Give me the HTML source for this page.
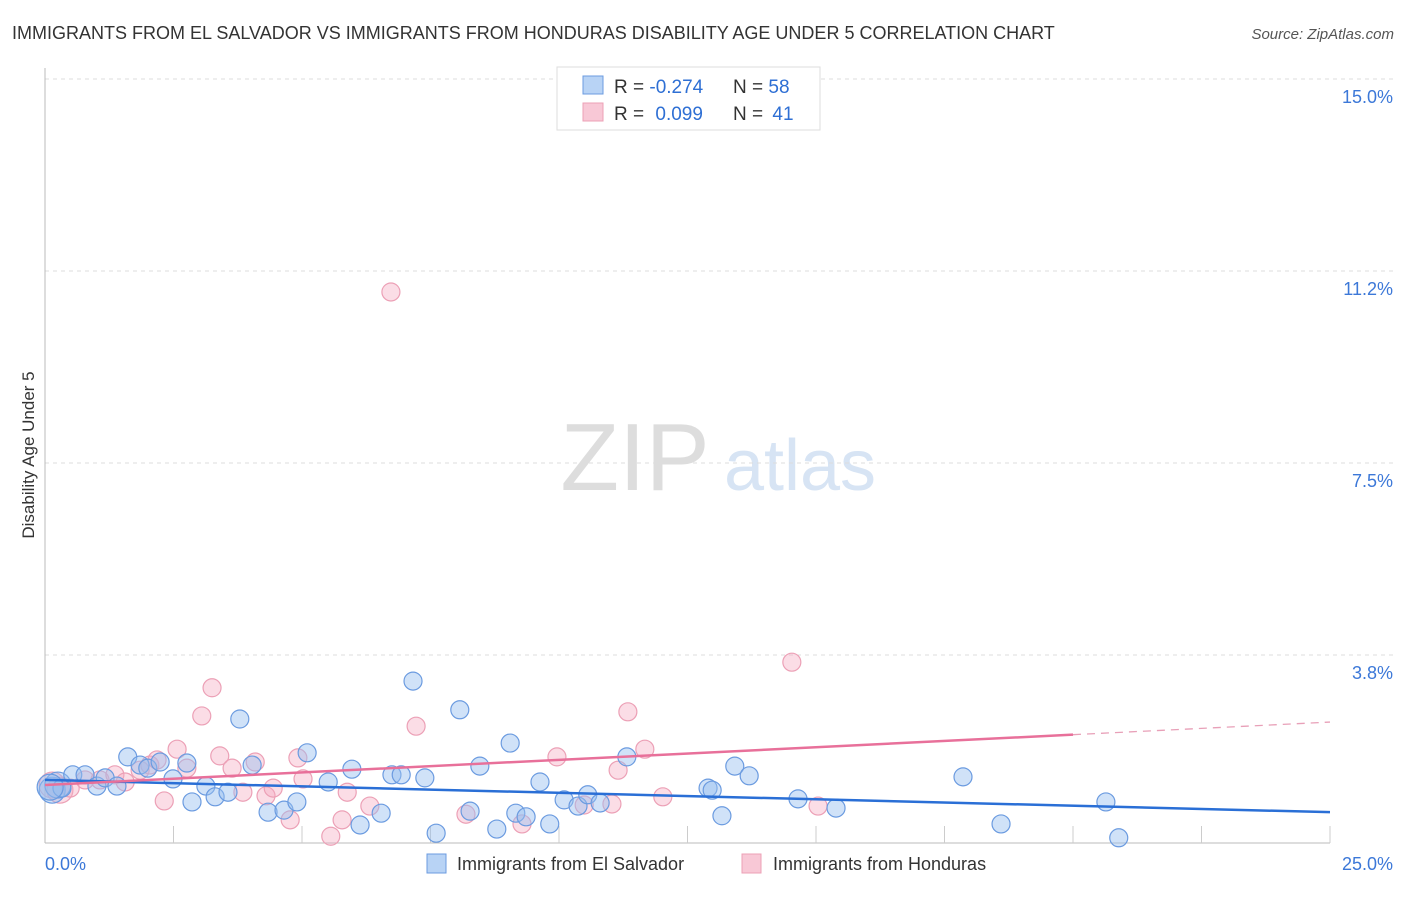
<!DOCTYPE html>
<html><head><meta charset="utf-8"><style>
body{margin:0;background:#fff;font-family:"Liberation Sans",sans-serif;}
svg text{font-family:"Liberation Sans",sans-serif;}
</style></head><body>
<svg id="chart" width="1406" height="892" viewBox="0 0 1406 892" xmlns="http://www.w3.org/2000/svg">
<text x="12" y="39" font-size="18" fill="#333">IMMIGRANTS FROM EL SALVADOR VS IMMIGRANTS FROM HONDURAS DISABILITY AGE UNDER 5 CORRELATION CHART</text>
<text x="1394" y="39" font-size="15" fill="#555" font-style="italic" text-anchor="end">Source: ZipAtlas.com</text>
<g>
<text x="635" y="490" font-size="96" fill="#ddd" font-family="Liberation Serif" text-anchor="middle">ZIP</text>
<text x="800" y="490" font-size="72" fill="#d7e4f4" text-anchor="middle">atlas</text>
</g>
<g id="grid"></g>
<g id="axes"></g>
<g id="pink"></g>
<g id="blue"></g>
<g id="trends"></g>
<text transform="translate(34,455) rotate(-90)" font-size="17" fill="#333" text-anchor="middle">Disability Age Under 5</text>
<g>
<rect x="557" y="67" width="263" height="63" fill="#fff" stroke="#ddd"/>
<rect x="583" y="76" width="20" height="18" fill="#b8d3f5" stroke="#6b9be0"/>
<rect x="583" y="103" width="20" height="18" fill="#f8c8d6" stroke="#eca0b6"/>
<text x="614" y="93" font-size="19" fill="#333">R = <tspan fill="#2e6fd4">-0.274</tspan></text>
<text x="733" y="93" font-size="19" fill="#333">N = <tspan fill="#2e6fd4">58</tspan></text>
<text x="614" y="120" font-size="19" fill="#333">R = <tspan fill="#2e6fd4" dx="6">0.099</tspan></text>
<text x="733" y="120" font-size="19" fill="#333">N = <tspan fill="#2e6fd4" dx="4">41</tspan></text>
</g>
<g>
<rect x="427" y="854" width="19" height="19" fill="#b8d3f5" stroke="#6b9be0"/>
<text x="457" y="870" font-size="18" fill="#333">Immigrants from El Salvador</text>
<rect x="742" y="854" width="19" height="19" fill="#f8c8d6" stroke="#eca0b6"/>
<text x="773" y="870" font-size="18" fill="#333">Immigrants from Honduras</text>
</g>
</svg>
<script>
const yTicks=[3.75,7.5,11.25,15];
const yTickLabels=["3.8%","7.5%","11.2%","15.0%"];
const xTickLabels=["0.0%","25.0%"];
const blueX=[0.14,0.25,0.33,0.54,0.78,1.01,1.17,1.40,1.61,1.85,2.00,2.24,2.49,2.76,2.86,3.13,3.31,3.56,3.79,4.03,4.34,4.65,4.90,5.10,5.51,5.97,6.13,6.54,6.75,6.93,7.16,7.39,7.61,8.07,8.27,8.46,8.79,9.05,9.16,9.36,9.63,9.82,10.10,10.37,10.56,10.80,11.32,12.90,12.98,13.17,13.42,13.70,14.65,15.39,17.86,18.60,20.64,20.89,0.10];
const blueY=[1.11,1.21,1.15,1.41,1.41,1.19,1.35,1.19,1.76,1.60,1.54,1.66,1.33,1.64,0.88,1.19,0.98,1.07,2.50,1.60,0.68,0.72,0.88,1.84,1.27,1.52,0.43,0.66,1.41,1.41,3.24,1.35,0.27,2.68,0.70,1.58,0.35,2.03,0.66,0.59,1.27,0.45,0.92,0.80,1.02,0.86,1.76,1.15,1.11,0.61,1.58,1.39,0.94,0.76,1.37,0.45,0.88,0.18,1.17];
const pinkX=[0.14,0.29,0.49,0.78,1.07,1.36,1.56,1.85,2.04,2.18,2.32,2.57,2.76,3.05,3.25,3.40,3.64,3.85,4.09,4.30,4.44,4.77,4.92,5.02,5.56,5.78,5.88,6.32,6.73,7.22,8.19,9.28,9.96,10.49,11.03,11.15,11.34,11.67,12.02,14.53,15.04];
const pinkY=[1.21,1.11,1.15,1.31,1.31,1.41,1.27,1.50,1.60,1.70,0.90,1.91,1.54,2.56,3.11,1.78,1.54,1.07,1.66,1.00,1.15,0.53,1.74,1.33,0.21,0.53,1.07,0.80,10.84,2.36,0.64,0.45,1.76,0.82,0.84,1.50,2.64,1.91,0.98,3.61,0.80];
const blueTrend=[1.31,0.68];
const pinkTrend=[1.21,2.44];
const NS="http://www.w3.org/2000/svg";
const X=v=>45+v*51.4, Y=v=>847-v*51.2;
function mk(tag,parent,attrs){const e=document.createElementNS(NS,tag);for(const k in attrs)e.setAttribute(k,attrs[k]);document.getElementById(parent).appendChild(e);return e;}
yTicks.forEach((t,i)=>{
 const l=mk('line','grid',{x1:45,x2:1395,y1:Y(t),y2:Y(t),stroke:'#ddd','stroke-dasharray':'4,4'});
 
 
 const tx=mk('text','grid',{x:1393,y:Y(t)+24,'font-size':18,fill:'#3c78d8','text-anchor':'end'});
 
 
 tx.textContent=yTickLabels[i];
});
const ax=mk('line','axes',{x1:45,x2:45,y1:68,y2:843,stroke:'#bbb'});
const bx=mk('line','axes',{x1:45,x2:1330,y1:843,y2:843,stroke:'#bbb'});
for(let i=1;i<=10;i++){const t=mk('line','axes',{x1:X(i*2.5),x2:X(i*2.5),y1:826,y2:843,stroke:'#ccc'});
 
 }
const xl0=mk('text','axes',{x:45,y:870,'font-size':18,fill:'#3c78d8'});

xl0.textContent=xTickLabels[0];
const xl1=mk('text','axes',{x:1393,y:870,'font-size':18,fill:'#3c78d8','text-anchor':'end'});

xl1.textContent=xTickLabels[1];
pinkX.forEach((x,i)=>{const c=mk('circle','pink',{cx:X(x),cy:Y(pinkY[i]),r:i<2?13:9,fill:'rgba(244,170,192,0.4)',stroke:'#eca0b6','stroke-width':1.2});
 
 });
blueX.forEach((x,i)=>{const c=mk('circle','blue',{cx:X(x),cy:Y(blueY[i]),r:(i<2||i==58)?13:9,fill:'rgba(150,190,240,0.45)',stroke:'#6b9be0','stroke-width':1.2});
 
 });
const bt=mk('line','trends',{x1:X(0),y1:Y(blueTrend[0]),x2:X(25),y2:Y(blueTrend[1]),stroke:'#2a6fd6','stroke-width':2.5});

const pAt=v=>pinkTrend[0]+(pinkTrend[1]-pinkTrend[0])*v/25;
const pt=mk('line','trends',{x1:X(0),y1:Y(pAt(0)),x2:X(20),y2:Y(pAt(20)),stroke:'#e8709a','stroke-width':2.5});

const pd=mk('line','trends',{x1:X(20),y1:Y(pAt(20)),x2:X(25),y2:Y(pAt(25)),stroke:'#e8a0b8','stroke-width':1.3,'stroke-dasharray':'8,6'});

</script>
</body></html>
